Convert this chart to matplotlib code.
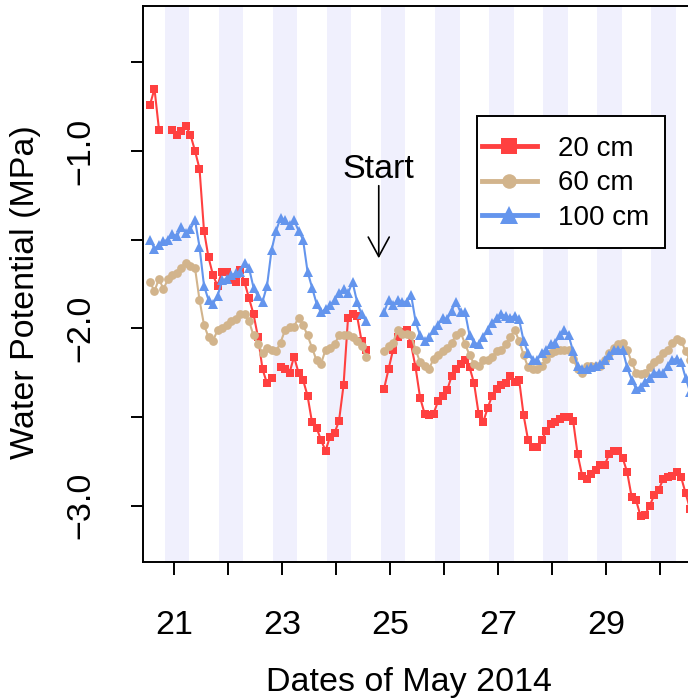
import numpy as np
import matplotlib
matplotlib.use('Agg')
import matplotlib.pyplot as plt
from matplotlib.lines import Line2D
from matplotlib.patches import Rectangle

plt.rcParams['font.family'] = ['Liberation Sans', 'DejaVu Sans']

nan = np.nan

# sampling times (day of May 2014), every 2 hours
t = 20.55 + np.arange(121) / 12.0

# water potential (MPa) at three depths
wp_20 = [-0.74, -0.65, -0.88, nan, nan, -0.88, -0.91, -0.89, -0.86, -0.91, -1.00, -1.10,
         -1.45, -1.60, -1.70, -1.76, -1.68, -1.68, -1.73, -1.74, -1.67, -1.74, -1.83, -1.92,
         -2.05, -2.23, -2.31, -2.28, nan, -2.22, -2.23, -2.25, -2.16, -2.25, -2.29, -2.38,
         -2.53, -2.56, -2.63, -2.69, -2.61, -2.59, -2.52, -2.32, -1.94, -1.92, -1.93, -2.07,
         -2.12, nan, nan, nan, -2.34, -2.23, -2.12, -2.05, -2.02, -2.01, -2.09, -2.22,
         -2.39, -2.48, -2.49, -2.48, -2.41, -2.38, -2.35, -2.27, -2.23, -2.20, -2.18, -2.22,
         -2.31, -2.48, -2.53, -2.45, -2.38, -2.34, -2.32, -2.31, -2.27, -2.30, -2.29, -2.49,
         -2.63, -2.67, -2.67, -2.63, -2.58, -2.54, -2.53, -2.51, -2.50, -2.50, -2.52, -2.71,
         -2.83, -2.85, -2.82, -2.80, -2.77, -2.77, -2.71, -2.69, -2.69, -2.73, -2.81, -2.95,
         -2.97, -3.06, -3.05, -3.00, -2.94, -2.91, -2.85, -2.84, -2.83, -2.81, -2.84, -2.93,
         -3.02]

wp_60 = [-1.74, -1.79, -1.72, -1.78, -1.72, -1.70, -1.69, -1.66, -1.63, -1.65, -1.66, -1.84,
         -1.98, -2.05, -2.07, -2.01, -2.00, -1.98, -1.96, -1.95, -1.92, -1.92, -1.96, -2.04,
         -2.09, -2.14, -2.11, -2.12, -2.13, -2.08, -2.01, -1.99, -1.99, -1.94, -1.98, -2.04,
         -2.11, -2.18, -2.20, -2.12, -2.11, -2.09, -2.04, -2.04, -2.04, -2.05, -2.07, -2.10,
         -2.16, nan, nan, nan, -2.13, -2.10, -2.08, -2.01, -2.03, -2.03, -2.04, -2.12,
         -2.19, -2.21, -2.23, -2.17, -2.15, -2.13, -2.11, -2.08, -2.04, -2.02, -2.09, -2.15,
         -2.20, -2.21, -2.18, -2.18, -2.16, -2.13, -2.12, -2.09, -2.05, -2.01, -2.07, -2.15,
         -2.22, -2.23, -2.23, -2.21, -2.17, -2.14, -2.13, -2.12, -2.12, -2.12, -2.17, -2.23,
         -2.25, -2.21, -2.21, -2.21, -2.21, -2.18, -2.14, -2.11, -2.09, -2.08, -2.12, -2.19,
         -2.25, -2.26, -2.25, -2.22, -2.19, -2.17, -2.14, -2.12, -2.08, -2.06, -2.07, -2.13,
         -2.18]

wp_100 = [-1.50, -1.55, -1.53, -1.51, -1.50, -1.47, -1.48, -1.43, -1.46, -1.44, -1.39, -1.54,
          -1.76, -1.84, -1.86, -1.82, -1.73, -1.72, -1.70, -1.69, -1.68, -1.63, -1.66, -1.77,
          -1.82, -1.85, -1.76, -1.56, -1.45, -1.38, -1.39, -1.42, -1.39, -1.45, -1.50, -1.68,
          -1.77, -1.86, -1.91, -1.89, -1.87, -1.84, -1.80, -1.78, -1.80, -1.74, -1.85, -1.92,
          -1.96, nan, nan, nan, -1.91, -1.84, -1.87, -1.84, -1.85, -1.85, -1.81, -1.96,
          -2.04, -2.07, -2.05, -2.01, -1.98, -1.94, -1.95, -1.90, -1.85, -1.91, -1.91, -2.04,
          -2.08, -2.09, -2.05, -2.01, -1.97, -1.94, -1.92, -1.93, -1.94, -1.93, -1.95, -2.07,
          -2.14, -2.18, -2.18, -2.14, -2.12, -2.09, -2.08, -2.04, -2.01, -2.04, -2.13, -2.21,
          -2.23, -2.23, -2.22, -2.21, -2.20, -2.18, -2.15, -2.12, -2.12, -2.12, -2.22, -2.29,
          -2.34, -2.33, -2.30, -2.28, -2.25, -2.25, -2.25, -2.21, -2.18, -2.17, -2.19, -2.28,
          -2.36]

# night periods (shaded)
night_start = [20.83, 21.83, 22.83, 23.83, 24.83, 25.83, 26.83, 27.83, 28.83, 29.83]
night_end = [21.28, 22.28, 23.28, 24.28, 25.28, 26.28, 27.28, 28.28, 29.28, 30.28]

depth_labels = ['20 cm', '60 cm', '100 cm']
colors = ['#FF4040', '#D2B48C', '#6495ED']
markers = ['s', 'o', '^']
msizes = [5.8, 6.3, 7.2]

fig = plt.figure(figsize=(6.88, 7.0), dpi=100)
ax = fig.add_axes([0.2074, 0.1976, 0.7926, 0.7939])

for s, e in zip(night_start, night_end):
    ax.axvspan(s, e, color='#F0F0FD', lw=0, zorder=0)

for vals, c, m, ms in zip([wp_20, wp_60, wp_100], colors, markers, msizes):
    ax.plot(t, vals, color=c, marker=m, ms=ms, mew=0, lw=1.5, zorder=2)

ax.set_xlim(20.415, 30.51)
ax.set_ylim(-3.315, -0.183)

days = list(range(21, 31))
ax.set_xticks(days)
ax.set_xticklabels([str(d) if d % 2 else '' for d in days])
yt = [-3.0, -2.5, -2.0, -1.5, -1.0, -0.5]
ax.set_yticks(yt)
ax.set_yticklabels(['\u22123.0', '', '\u22122.0', '', '\u22121.0', ''])

ax.tick_params(direction='out', length=9, width=1.4, labelsize=24.5)
ax.tick_params(axis='x', pad=26)
ax.tick_params(axis='y', pad=24, labelrotation=90)
for lbl in ax.get_yticklabels():
    lbl.set_va('center')

ax.spines['right'].set_visible(False)
for sp in ['left', 'top', 'bottom']:
    ax.spines[sp].set_linewidth(1.4)

ax.set_xlabel('Dates of May 2014', fontsize=24.5)
ax.xaxis.set_label_coords(0.4874, -0.19)
ax.set_ylabel('Water Potential (MPa)', fontsize=24.5)
ax.yaxis.set_label_coords(-0.186, 0.485)

# start marker
ax.text(24.785, -1.104, 'Start', ha='center', va='center', fontsize=24.5)
ax.annotate('', xy=(24.785, -1.605), xytext=(24.785, -1.196),
            arrowprops=dict(arrowstyle='->, head_length=0.5, head_width=0.27',
                            color='black', lw=1.2, mutation_scale=28,
                            shrinkA=0, shrinkB=0))

# legend: frame drawn separately so the padding matches
W, H = 688.0, 700.0
box = Rectangle((476.7 / W, 1 - 247.7 / H), (665 - 476.7) / W, (247.7 - 115.7) / H,
                transform=fig.transFigure, facecolor='white', edgecolor='black',
                lw=1.4, zorder=5)
ax.add_patch(box)
box.set_clip_on(False)

handles = [Line2D([], [], color=c, marker=m, lw=3.5, ms=s, mew=0)
           for c, m, s in zip(colors, markers, [11, 10.5, 13])]
leg = ax.legend(handles, depth_labels, loc='center left',
                bbox_to_anchor=(481.7 / W, 1 - 183.5 / H), bbox_transform=fig.transFigure,
                borderaxespad=0, borderpad=0, fontsize=20, frameon=False,
                handlelength=2.0, handletextpad=0.75, labelspacing=0.3)
leg.set_zorder(6)

fig.savefig('out.png', dpi=100)
